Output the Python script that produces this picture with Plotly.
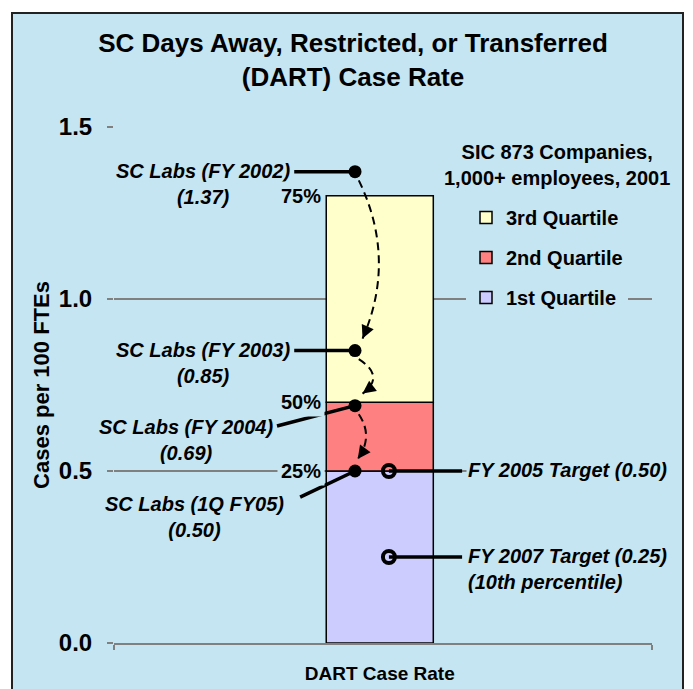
import plotly.graph_objects as go

# ---------------- data ----------------
category = "DART Case Rate"
quartile_names = ["1st Quartile", "2nd Quartile", "3rd Quartile"]
quartile_upper = [0.50, 0.70, 1.30]
quartile_pct = ["25%", "50%", "75%"]
quartile_colors = ["#ccccff", "#ff8080", "#ffffcc"]

lab_periods = ["FY 2002", "FY 2003", "FY 2004", "1Q FY05"]
lab_rates = [1.37, 0.85, 0.69, 0.50]

target_names = ["FY 2005 Target", "FY 2007 Target"]
target_rates = [0.50, 0.25]
target_notes = ["", "(10th percentile)"]

y_ticks = [0.0, 0.5, 1.0, 1.5]

title_text = "SC Days Away, Restricted, or Transferred<br>(DART) Case Rate"
legend_title = "SIC 873 Companies,<br>1,000+ employees, 2001"
y_title = "Cases per 100 FTEs"

# ---------------- layout / style ----------------
W, H = 693, 689
ML, MR, MT, MB = 114, 41, 127, 46
PW, PH = W - ML - MR, H - MT - MB
BG = "#c4e5f1"
FONT = "Liberation Sans, Arial, sans-serif"
GRID = "#808080"

X_BAR, BAR_W = 0.494, 0.199
X_DOT, X_RING = 0.448, 0.511
LAB_X = [0.166, 0.166, 0.134, 0.149]
LAB_Y = [None, None, 0.625, 0.401]          # None -> same as value
LAB_LINE_START = [(0.335, None), (0.335, None), (0.303, 0.631), (0.346, 0.424)]
PCT_X = 0.392
TGT_LINE_END, TGT_TEXT_X = 0.647, 0.654
ARROW_CTRL_X = [0.526, 0.505, 0.483]
ARROW_START_X = [0.455, 0.455, 0.455]
ARROW_END_X = [0.462, 0.462, 0.453]

lab_font = dict(family=FONT, size=20, color="black", weight="bold", style="italic")
bold_font = dict(family=FONT, size=20, color="black", weight="bold")


def px_to_paper_x(p):
    return (p - ML) / PW


def px_to_paper_y(p):
    return (H - MB - p) / PH


fig = go.Figure()

# stacked quartile bar
lower = [0.0] + quartile_upper[:-1]
for k, (name, lo, hi, col) in enumerate(zip(quartile_names, lower, quartile_upper, quartile_colors)):
    fig.add_trace(go.Bar(
        x=[X_BAR], y=[hi - lo], base=[lo], width=[BAR_W], name=name,
        legendgroup=name, legendrank=10 - k,
        marker=dict(color=col, line=dict(color="black", width=1.5)),
        hoverinfo="skip",
    ))

# connector lines for SC Labs points
shapes = []
for i, v in enumerate(lab_rates):
    sx, sy = LAB_LINE_START[i]
    shapes.append(dict(type="line", xref="x", yref="y",
                       x0=sx, y0=v if sy is None else sy, x1=X_DOT, y1=v,
                       line=dict(color="black", width=3.5), layer="above"))
# connector lines for targets
for v in target_rates:
    shapes.append(dict(type="line", xref="x", yref="y",
                       x0=X_RING, y0=v, x1=TGT_LINE_END, y1=v,
                       line=dict(color="black", width=3.5), layer="above"))

# dashed curved arrows between successive SC Labs values
annotations = []
for i in range(len(lab_rates) - 1):
    y0 = lab_rates[i] - 0.025
    y1 = lab_rates[i + 1] + 0.035
    x0, x1 = ARROW_START_X[i], ARROW_END_X[i]
    cx, cy = ARROW_CTRL_X[i], (y0 + y1) / 2
    shapes.append(dict(type="path", xref="x", yref="y",
                       path=f"M {x0},{y0} Q {cx},{cy} {x1},{y1}",
                       line=dict(color="black", width=2, dash="8px,5px"), layer="above"))
    dxp = (cx - x1) * PW
    dyp = -(cy - y1) * PH / 1.5
    n = (dxp ** 2 + dyp ** 2) ** 0.5
    annotations.append(dict(x=x1, y=y1, xref="x", yref="y",
                            ax=dxp / n * 11, ay=dyp / n * 11,
                            text="", showarrow=True,
                            arrowhead=2, arrowsize=1.3, arrowwidth=2, arrowcolor="black"))

# SC Labs points
fig.add_trace(go.Scatter(
    x=[X_DOT] * len(lab_rates), y=lab_rates, mode="markers",
    marker=dict(color="black", size=13), showlegend=False, hoverinfo="skip",
))
# target rings
fig.add_trace(go.Scatter(
    x=[X_RING] * len(target_rates), y=target_rates, mode="markers",
    marker=dict(symbol="circle-open", color="black", size=12, line=dict(width=4, color="black")),
    showlegend=False, hoverinfo="skip",
))

# SC Labs labels
for i, (p, v) in enumerate(zip(lab_periods, lab_rates)):
    ly = v if LAB_Y[i] is None else LAB_Y[i]
    annotations.append(dict(x=LAB_X[i], y=ly, xref="x", yref="y",
                            text=f"SC Labs ({p})<br>({v:.2f})", showarrow=False,
                            xanchor="center", yanchor="top", yshift=14, align="center",
                            font=lab_font))

# percentile labels
for pct, v in zip(quartile_pct, quartile_upper):
    annotations.append(dict(x=PCT_X, y=v, xref="x", yref="y", text=pct, showarrow=False,
                            xanchor="right", yanchor="middle", font=bold_font,
                            bgcolor=BG, borderpad=3))

# target labels
for n, v, note in zip(target_names, target_rates, target_notes):
    txt = f"{n} ({v:.2f})" + (f"<br>{note}" if note else "")
    annotations.append(dict(x=TGT_TEXT_X, y=v, xref="x", yref="y", text=txt, showarrow=False,
                            xanchor="left", yanchor="top", yshift=14, align="left",
                            font=lab_font, bgcolor=BG, borderpad=1))

# legend title
annotations.append(dict(x=px_to_paper_x(557), y=px_to_paper_y(139), xref="paper", yref="paper",
                        text=legend_title, showarrow=False, xanchor="center", yanchor="top",
                        align="center", font=bold_font))

# outer frame
shapes.append(dict(type="rect", xref="paper", yref="paper",
                   x0=px_to_paper_x(12), x1=px_to_paper_x(683),
                   y0=px_to_paper_y(710), y1=px_to_paper_y(13),
                   fillcolor=BG, line=dict(color="#222222", width=2), layer="below"))

fig.update_layout(
    width=W, height=H,
    margin=dict(l=ML, r=MR, t=MT, b=MB),
    paper_bgcolor="white", plot_bgcolor="rgba(0,0,0,0)",
    barmode="overlay",
    font=dict(family=FONT, color="black"),
    title=dict(text=title_text, x=353 / W, xref="container", xanchor="center",
               y=1 - 52 / H, yref="container", yanchor="top",
               font=dict(family=FONT, size=26, color="black", weight="bold")),
    legend=dict(x=px_to_paper_x(466), y=px_to_paper_y(198), xanchor="left", yanchor="top",
                traceorder="grouped", tracegroupgap=11, bgcolor=BG,
                font=bold_font, itemclick=False, itemdoubleclick=False, entrywidth=140),
    shapes=shapes,
    annotations=annotations,
    showlegend=True,
)

fig.update_xaxes(range=[0, 1], tickvals=[X_BAR], ticktext=[category], showgrid=False,
                 zeroline=False, showline=True, linecolor=GRID, linewidth=2,
                 ticks="", ticklabelstandoff=12, automargin=False,
                 tickfont=dict(family=FONT, size=19, color="black", weight="bold"),
                 minor=dict(tickvals=[0, 1], ticks="outside", ticklen=5, tickwidth=2, tickcolor=GRID))
fig.update_yaxes(range=[0, 1.5], tickvals=y_ticks, tickformat=".1f", showgrid=True,
                 gridcolor=GRID, gridwidth=2, zeroline=False, showline=False,
                 ticks="outside", ticklen=6, tickwidth=2, tickcolor=GRID,
                 ticklabelstandoff=10, automargin=False,
                 tickfont=dict(family=FONT, size=24, color="black", weight="bold"),
                 title=dict(text=y_title, standoff=3,
                            font=dict(family=FONT, size=22, color="black", weight="bold")))

fig.write_html("out.html", config={"displayModeBar": False},
               post_script="document.body.style.margin='0px';")
